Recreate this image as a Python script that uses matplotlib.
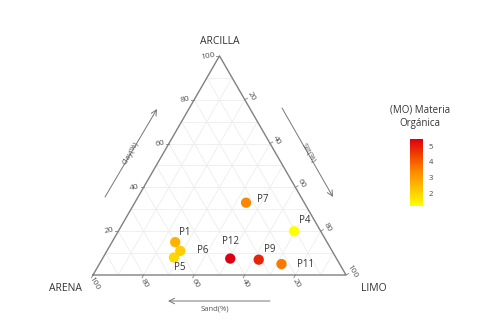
import numpy as np
import matplotlib
matplotlib.use("Agg")
import matplotlib.pyplot as plt
from matplotlib.colors import LinearSegmentedColormap, Normalize

plt.rcParams['font.family'] = ['Open Sans', 'DejaVu Sans']

# soil samples (percent)
names = ['P1', 'P4', 'P5', 'P6', 'P7', 'P9', 'P11', 'P12']
sand = [60, 10.5, 64, 60, 23, 31, 23, 42]
silt = [25, 69.5, 28, 29, 44, 62, 72, 50.5]
clay = [15, 20, 8, 11, 33, 7, 5, 7.5]
mo = [2.6, 1.2, 1.9, 2.1, 3.4, 4.9, 3.6, 5.45]

ticks = [20, 40, 60, 80, 100]
cbar_ticks = [2, 3, 4, 5]

# label offsets in points (dx, dy)
offs = {'P1': (7, 7), 'P4': (8, 8), 'P5': (4, -7), 'P6': (16, 0), 'P7': (12, 2),
        'P9': (8, 7), 'P11': (17, 0), 'P12': (0, 12)}

def tern(sa, si, cl):
    tot = np.asarray(sa, float) + np.asarray(si, float) + np.asarray(cl, float)
    si = np.asarray(si, float) / tot
    cl = np.asarray(cl, float) / tot
    return si + cl / 2, cl * np.sqrt(3) / 2

fig = plt.figure(figsize=(4.8, 3.25), dpi=100)
ax = fig.add_axes([0, 0, 1, 1])
sc = 253.0
ax.set_xlim(-93 / sc, (480 - 93) / sc)
ax.set_ylim(-50 / sc, 275 / sc)
ax.axis('off')

h = np.sqrt(3) / 2
gcol = '#ededed'
# grid
for v in range(10, 100, 10):
    # constant clay
    x, y = tern([100 - v, 0], [0, 100 - v], [v, v])
    ax.plot(x, y, color=gcol, lw=0.6, zorder=1)
    # constant sand
    x, y = tern([v, v], [100 - v, 0], [0, 100 - v])
    ax.plot(x, y, color=gcol, lw=0.6, zorder=1)
    # constant silt
    x, y = tern([100 - v, 0], [v, v], [0, 100 - v])
    ax.plot(x, y, color=gcol, lw=0.6, zorder=1)

ax.plot([0, 1, 0.5, 0], [0, 0, h, 0], color='#808080', lw=1.0, zorder=2)

tc = '#555555'
fs = 6
for t in ticks:
    # clay, left edge
    x, y = tern(100 - t, 0, t)
    ax.plot([x, x - 0.012], [y, y], color='#808080', lw=0.6)
    ax.text(x - 0.015, y, str(t), fontsize=fs, color=tc, ha='right', va='center', rotation=10)
    # silt, right edge
    x, y = tern(0, t, 100 - t)
    ax.plot([x, x + 0.012 * 0.866], [y, y + 0.012 * 0.5], color='#808080', lw=0.6)
    ax.text(x + 0.028 * 0.866, y + 0.028 * 0.5, str(t), fontsize=fs, color=tc,
            ha='center', va='center', rotation=-60)
    # sand, bottom
    x, y = tern(t, 100 - t, 0)
    ax.plot([x, x - 0.006], [y, y - 0.011], color='#808080', lw=0.6)
    ax.text(x + 0.004, y - 0.035, str(t), fontsize=fs, color=tc,
            ha='center', va='center', rotation=-60)

# axis names
ax.text(0.5, h + 0.058, 'ARCILLA', fontsize=7.5, color='#333333', ha='center', va='center')
ax.text(-0.107, -0.052, 'ARENA', fontsize=7.5, color='#333333', ha='center', va='center')
ax.text(1.109, -0.055, 'LIMO', fontsize=7.5, color='#333333', ha='center', va='center')

# direction arrows
ak = dict(arrowstyle='->', color='#777777', lw=0.7, shrinkA=0, shrinkB=0)
ax.annotate('', xy=(64 / sc, 166 / sc), xytext=(12 / sc, 78 / sc), arrowprops=ak)
ax.text(38 / sc, 122 / sc, 'Clay(%)', fontsize=5.5, color=tc, rotation=60,
        ha='center', va='center')
ax.annotate('', xy=(240 / sc, 78 / sc), xytext=(189 / sc, 167 / sc), arrowprops=ak)
ax.text(216 / sc, 122 / sc, 'Silt(%)', fontsize=5.5, color=tc, rotation=-60,
        ha='center', va='center')
ax.annotate('', xy=(75 / sc, -26 / sc), xytext=(177 / sc, -26 / sc), arrowprops=ak)
ax.text(122 / sc, -34 / sc, 'Sand(%)', fontsize=5.5, color=tc, ha='center', va='center')

cmap = LinearSegmentedColormap.from_list('yr', ['#ffff00', '#ffc400', '#ff8c00', '#f24400', '#dd0010'])
norm = Normalize(vmin=1.2, vmax=5.45)

px, py = tern(sand, silt, clay)
ax.scatter(px, py, c=mo, cmap=cmap, norm=norm, s=55, edgecolors='none', zorder=5)
for n, x, y in zip(names, px, py):
    dx, dy = offs[n]
    ax.annotate(n, (x, y), xytext=(dx, dy), textcoords='offset points', fontsize=7,
                color='#333333', ha='center', va='center', zorder=6)

# colorbar
cax = fig.add_axes([410 / 480, 1 - 206 / 325, 13 / 480, 67 / 325])
cb = fig.colorbar(plt.cm.ScalarMappable(norm=norm, cmap=cmap), cax=cax, ticks=cbar_ticks)
cb.outline.set_visible(False)
cax.tick_params(length=0, labelsize=5.5, labelcolor='#444444', pad=4)
fig.text(420 / 480, 1 - 117 / 325, '(MO) Materia\nOrgánica', fontsize=7, color='#333333',
         ha='center', va='center', linespacing=1.3)

fig.savefig('out.png', dpi=100)
